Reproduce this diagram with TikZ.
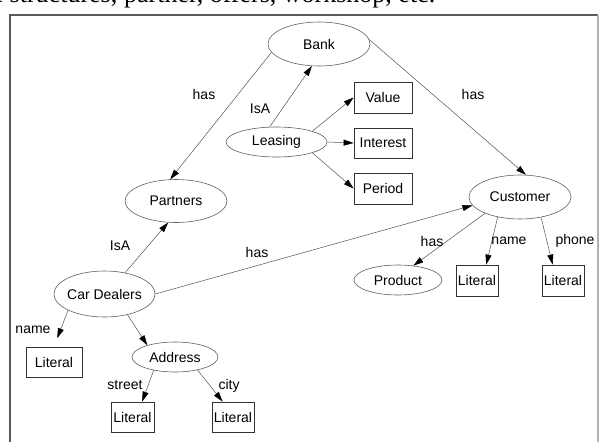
\documentclass[tikz,border=0pt]{standalone}
\usepackage{fontspec}
\setmainfont{Liberation Sans}
\newfontfamily\headserif{Liberation Serif}
\usetikzlibrary{shapes.geometric,arrows.meta}
% centre a label inside a node without letting it widen the shape
\newcommand\ctr[1]{\makebox[0pt]{#1}}

\begin{document}
\begin{tikzpicture}[x=1pt,y=-1pt,
  txt/.style={font=\fontsize{14}{16}\selectfont},
  ent/.style={ellipse,draw=gray!75!black,line width=0.6pt,inner sep=0pt,txt},
  lit/.style={rectangle,draw=black!80,line width=0.8pt,inner sep=0pt,txt},
  rel/.style={draw=gray!65!black,line width=0.5pt,
              -{Triangle[length=10pt,width=6pt,black]}},
  lbl/.style={inner sep=0pt,txt},
  head/.style={inner sep=0pt,font=\headserif\fontsize{26}{30}\selectfont}
]
\useasboundingbox (0,0) rectangle (605,442);
\fill[white] (0,0) rectangle (605,442);

% running text line above the frame, mostly outside the page
\begin{scope}
\clip (0,0) rectangle (605,442);
\node[head,anchor=base east] (headA) at (117.5,2.5) {al structures,};
\node[head,anchor=base west] (headB) at (124,2.5) {partner, offers, workshop, etc.};
\end{scope}

% frame
\draw[gray!70!black,line width=1.1pt] (10,442) -- (10,15) -- (598,15);
\draw[gray!60,line width=2pt] (598,15) -- (598,442);

% entities
\node[ent,minimum width=102pt,minimum height=44pt] (bank) at (319,44) {\ctr{Bank}};
\node[ent,minimum width=101pt,minimum height=30pt] (leasing) at (276.5,142) {\ctr{Leasing}};
\node[ent,minimum width=102pt,minimum height=44pt] (customer) at (520,197) {\ctr{Customer}};
\node[ent,minimum width=102pt,minimum height=43pt] (partners) at (176,201) {\ctr{Partners}};
\node[ent,minimum width=101pt,minimum height=46pt] (cardealers) at (104.5,294) {\ctr{Car Dealers}};
\node[ent,minimum width=86pt,minimum height=30pt] (address) at (175,357) {\ctr{Address}};
\node[ent,minimum width=88pt,minimum height=30pt] (product) at (398,280) {\ctr{Product}};

% attribute boxes
\node[lit,minimum width=58pt,minimum height=31pt] (value) at (383,97.5) {\ctr{Value}};
\node[lit,minimum width=58pt,minimum height=30pt] (interest) at (383,143) {\ctr{Interest}};
\node[lit,minimum width=58pt,minimum height=31pt] (period) at (383,188.5) {\ctr{Period}};
\node[lit,minimum width=56pt,minimum height=30pt] (litA) at (54,362) {\ctr{Literal}};
\node[lit,minimum width=43pt,minimum height=30pt] (litB) at (132.5,417) {\ctr{Literal}};
\node[lit,minimum width=42pt,minimum height=30pt] (litC) at (233,417) {\ctr{Literal}};
\node[lit,minimum width=42pt,minimum height=31pt] (litD) at (477,280.5) {\ctr{Literal}};
\node[lit,minimum width=42pt,minimum height=31pt] (litE) at (563,280.5) {\ctr{Literal}};

% relations
\draw[rel] (bank.190) -- (partners.105);
\draw[rel] (leasing.114) -- (bank.252);
\draw[rel] (bank.5) -- (customer.75);
\draw[rel] (leasing.north east) -- (value.west);
\draw[rel] (leasing.east) -- (interest.west);
\draw[rel] (leasing.south east) -- (period.west);
\draw[rel] (cardealers.46) -- (partners.250);
\draw[rel] (cardealers.east) -- (customer.190);
\draw[rel,shorten >=9pt] (cardealers.204) -- (litA.north);
\draw[rel] (cardealers.318) -- (address.157);
\draw[rel] (address.212) -- (litB.58);
\draw[rel] (address.330) -- (litC.124);
\draw[rel] (customer.205) -- (product.43);
\draw[rel] (customer.222) -- (litD.60);
\draw[rel] (customer.316) -- (litE.123);

% relation labels
\node[lbl] (l1) at (204,94) {has};
\node[lbl] (l2) at (260,109) {IsA};
\node[lbl] (l3) at (473,94) {has};
\node[lbl] (l4) at (120,246) {IsA};
\node[lbl] (l5) at (257,252) {has};
\node[lbl] (l6) at (33,330) {name};
\node[lbl] (l7) at (125,385) {street};
\node[lbl] (l8) at (229,386) {city};
\node[lbl] (l9) at (432,241) {has};
\node[lbl] (l10) at (509,241) {name};
\node[lbl] (l11) at (575,241) {phone};
\end{tikzpicture}
\end{document}
